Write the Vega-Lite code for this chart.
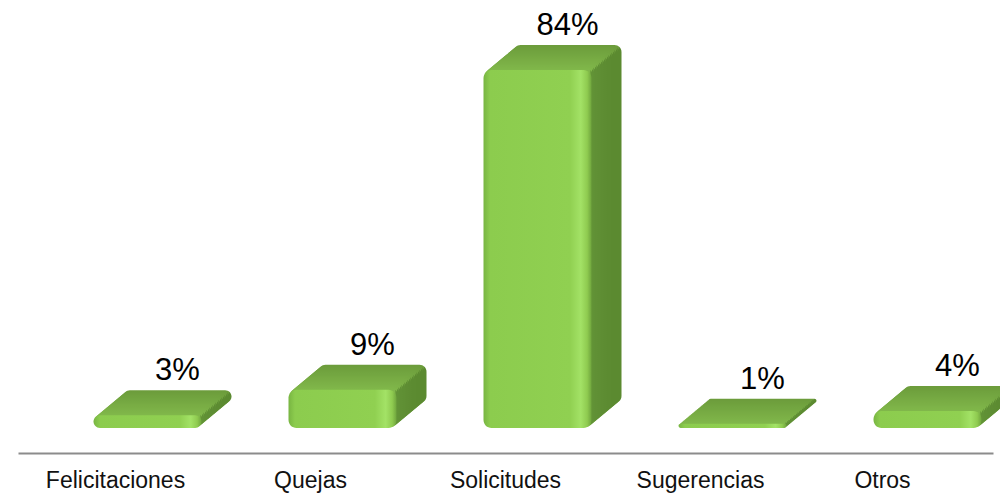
{
  "$schema": "https://vega.github.io/schema/vega-lite/v6.json",
  "width": 975,
  "height": 453,
  "autosize": {"type": "none"},
  "padding": {"left": 18, "top": 0, "right": 7, "bottom": 42},
  "background": "white",
  "config": {"view": {"stroke": null}, "bar": {"size": 108, "cornerRadius": 7}},
  "data": {"values": [
    {"cat": "Felicitaciones", "v": 3, "label": "3%"},
    {"cat": "Quejas", "v": 9, "label": "9%"},
    {"cat": "Solicitudes", "v": 84, "label": "84%"},
    {"cat": "Sugerencias", "v": 1, "label": "1%"},
    {"cat": "Otros", "v": 4, "label": "4%"}
  ]},
  "encoding": {
    "x": {"field": "cat", "type": "nominal", "sort": null,
      "scale": {"paddingInner": 0, "paddingOuter": 0},
      "axis": {"title": null, "labelAngle": 0, "ticks": false, "domainColor": "#8c8c8c", "domainWidth": 2,
        "labelFont": "Liberation Sans", "labelFontSize": 23, "labelColor": "#111111", "labelPadding": 16,
        "labelOffset": {"condition": {"test": "datum.label == 'Otros'", "value": -13}, "value": 0}}},
    "y": {"field": "v", "type": "quantitative", "scale": {"domain": [-5.87, 100.42], "zero": false, "nice": false}, "axis": null},
    "y2": {"datum": 0}
  },
  "layer": [
    {"mark": {"type": "bar", "xOffset": 62, "x2Offset": 62, "yOffset": -25, "y2Offset": -25, "color": {"gradient": "linear", "stops": [{"offset": 0, "color": "#6c9c3b"}, {"offset": 0.975, "color": "#6c9c3b"}, {"offset": 0.978, "color": "#5b8a30"}, {"offset": 1, "color": "#5b8a30"}]}}},
    {"mark": {"type": "bar", "xOffset": 60.5, "x2Offset": 60.5, "yOffset": -23.75, "y2Offset": -23.75, "color": {"gradient": "linear", "stops": [{"offset": 0, "color": "#6d9d3c"}, {"offset": 0.975, "color": "#6d9d3c"}, {"offset": 0.978, "color": "#5b8a30"}, {"offset": 1, "color": "#5b8a30"}]}}},
    {"mark": {"type": "bar", "xOffset": 59, "x2Offset": 59, "yOffset": -22.5, "y2Offset": -22.5, "color": {"gradient": "linear", "stops": [{"offset": 0, "color": "#6e9f3d"}, {"offset": 0.975, "color": "#6e9f3d"}, {"offset": 0.978, "color": "#5b8a30"}, {"offset": 1, "color": "#5b8a30"}]}}},
    {"mark": {"type": "bar", "xOffset": 57.5, "x2Offset": 57.5, "yOffset": -21.25, "y2Offset": -21.25, "color": {"gradient": "linear", "stops": [{"offset": 0, "color": "#6fa03d"}, {"offset": 0.975, "color": "#6fa03d"}, {"offset": 0.978, "color": "#5b8a30"}, {"offset": 1, "color": "#5b8a30"}]}}},
    {"mark": {"type": "bar", "xOffset": 56, "x2Offset": 56, "yOffset": -20, "y2Offset": -20, "color": {"gradient": "linear", "stops": [{"offset": 0, "color": "#70a23e"}, {"offset": 0.975, "color": "#70a23e"}, {"offset": 0.978, "color": "#5b8a30"}, {"offset": 1, "color": "#5b8a30"}]}}},
    {"mark": {"type": "bar", "xOffset": 54.5, "x2Offset": 54.5, "yOffset": -18.75, "y2Offset": -18.75, "color": {"gradient": "linear", "stops": [{"offset": 0, "color": "#71a33f"}, {"offset": 0.975, "color": "#71a33f"}, {"offset": 0.978, "color": "#5b8a30"}, {"offset": 1, "color": "#5b8a30"}]}}},
    {"mark": {"type": "bar", "xOffset": 53, "x2Offset": 53, "yOffset": -17.5, "y2Offset": -17.5, "color": {"gradient": "linear", "stops": [{"offset": 0, "color": "#72a540"}, {"offset": 0.975, "color": "#72a540"}, {"offset": 0.978, "color": "#5b8a30"}, {"offset": 1, "color": "#5b8a30"}]}}},
    {"mark": {"type": "bar", "xOffset": 51.5, "x2Offset": 51.5, "yOffset": -16.25, "y2Offset": -16.25, "color": {"gradient": "linear", "stops": [{"offset": 0, "color": "#73a641"}, {"offset": 0.975, "color": "#73a641"}, {"offset": 0.978, "color": "#5c8b31"}, {"offset": 1, "color": "#5c8b31"}]}}},
    {"mark": {"type": "bar", "xOffset": 50, "x2Offset": 50, "yOffset": -15, "y2Offset": -15, "color": {"gradient": "linear", "stops": [{"offset": 0, "color": "#74a741"}, {"offset": 0.975, "color": "#74a741"}, {"offset": 0.978, "color": "#5c8b31"}, {"offset": 1, "color": "#5c8b31"}]}}},
    {"mark": {"type": "bar", "xOffset": 48.5, "x2Offset": 48.5, "yOffset": -13.75, "y2Offset": -13.75, "color": {"gradient": "linear", "stops": [{"offset": 0, "color": "#75a942"}, {"offset": 0.975, "color": "#75a942"}, {"offset": 0.978, "color": "#5c8b31"}, {"offset": 1, "color": "#5c8b31"}]}}},
    {"mark": {"type": "bar", "xOffset": 47, "x2Offset": 47, "yOffset": -12.5, "y2Offset": -12.5, "color": {"gradient": "linear", "stops": [{"offset": 0, "color": "#77aa43"}, {"offset": 0.975, "color": "#77aa43"}, {"offset": 0.978, "color": "#5d8c32"}, {"offset": 1, "color": "#5d8c32"}]}}},
    {"mark": {"type": "bar", "xOffset": 45.5, "x2Offset": 45.5, "yOffset": -11.25, "y2Offset": -11.25, "color": {"gradient": "linear", "stops": [{"offset": 0, "color": "#78ac44"}, {"offset": 0.975, "color": "#78ac44"}, {"offset": 0.978, "color": "#5d8c32"}, {"offset": 1, "color": "#5d8c32"}]}}},
    {"mark": {"type": "bar", "xOffset": 44, "x2Offset": 44, "yOffset": -10, "y2Offset": -10, "color": {"gradient": "linear", "stops": [{"offset": 0, "color": "#79ad44"}, {"offset": 0.975, "color": "#79ad44"}, {"offset": 0.978, "color": "#5e8d33"}, {"offset": 1, "color": "#5e8d33"}]}}},
    {"mark": {"type": "bar", "xOffset": 42.5, "x2Offset": 42.5, "yOffset": -8.75, "y2Offset": -8.75, "color": {"gradient": "linear", "stops": [{"offset": 0, "color": "#7aae45"}, {"offset": 0.975, "color": "#7aae45"}, {"offset": 0.978, "color": "#5e8d33"}, {"offset": 1, "color": "#5e8d33"}]}}},
    {"mark": {"type": "bar", "xOffset": 41, "x2Offset": 41, "yOffset": -7.5, "y2Offset": -7.5, "color": {"gradient": "linear", "stops": [{"offset": 0, "color": "#7bb046"}, {"offset": 0.975, "color": "#7bb046"}, {"offset": 0.978, "color": "#5f8f34"}, {"offset": 1, "color": "#5f8f34"}]}}},
    {"mark": {"type": "bar", "xOffset": 39.5, "x2Offset": 39.5, "yOffset": -6.25, "y2Offset": -6.25, "color": {"gradient": "linear", "stops": [{"offset": 0, "color": "#7cb147"}, {"offset": 0.975, "color": "#7cb147"}, {"offset": 0.978, "color": "#5f8f34"}, {"offset": 1, "color": "#5f8f34"}]}}},
    {"mark": {"type": "bar", "xOffset": 38, "x2Offset": 38, "yOffset": -5, "y2Offset": -5, "color": {"gradient": "linear", "stops": [{"offset": 0, "color": "#7db348"}, {"offset": 0.975, "color": "#7db348"}, {"offset": 0.978, "color": "#609035"}, {"offset": 1, "color": "#609035"}]}}},
    {"mark": {"type": "bar", "xOffset": 36.5, "x2Offset": 36.5, "yOffset": -3.75, "y2Offset": -3.75, "color": {"gradient": "linear", "stops": [{"offset": 0, "color": "#7eb448"}, {"offset": 0.975, "color": "#7eb448"}, {"offset": 0.978, "color": "#609035"}, {"offset": 1, "color": "#609035"}]}}},
    {"mark": {"type": "bar", "xOffset": 35, "x2Offset": 35, "yOffset": -2.5, "y2Offset": -2.5, "color": {"gradient": "linear", "stops": [{"offset": 0, "color": "#7fb649"}, {"offset": 0.975, "color": "#7fb649"}, {"offset": 0.978, "color": "#619236"}, {"offset": 1, "color": "#619236"}]}}},
    {"mark": {"type": "bar", "xOffset": 33.5, "x2Offset": 33.5, "yOffset": -1.25, "y2Offset": -1.25, "color": {"gradient": "linear", "stops": [{"offset": 0, "color": "#80b74a"}, {"offset": 0.975, "color": "#80b74a"}, {"offset": 0.978, "color": "#629336"}, {"offset": 1, "color": "#629336"}]}}},
    {"mark": {"type": "bar", "cornerRadius": 8, "xOffset": 32, "x2Offset": 32, "color": {"gradient": "linear", "stops": [{"offset": 0, "color": "#78b542"}, {"offset": 0.06, "color": "#8ccc4e"}, {"offset": 0.8, "color": "#90d051"}, {"offset": 0.9, "color": "#a3e266"}, {"offset": 0.96, "color": "#8fcb50"}, {"offset": 1, "color": "#6fa53d"}]}}},
    {"mark": {"type": "text", "dx": 62, "dy": -35, "align": "center", "baseline": "alphabetic", "font": "Liberation Sans", "fontSize": 31, "color": "#000000"},
     "encoding": {"text": {"field": "label"}}}
  ]
}
